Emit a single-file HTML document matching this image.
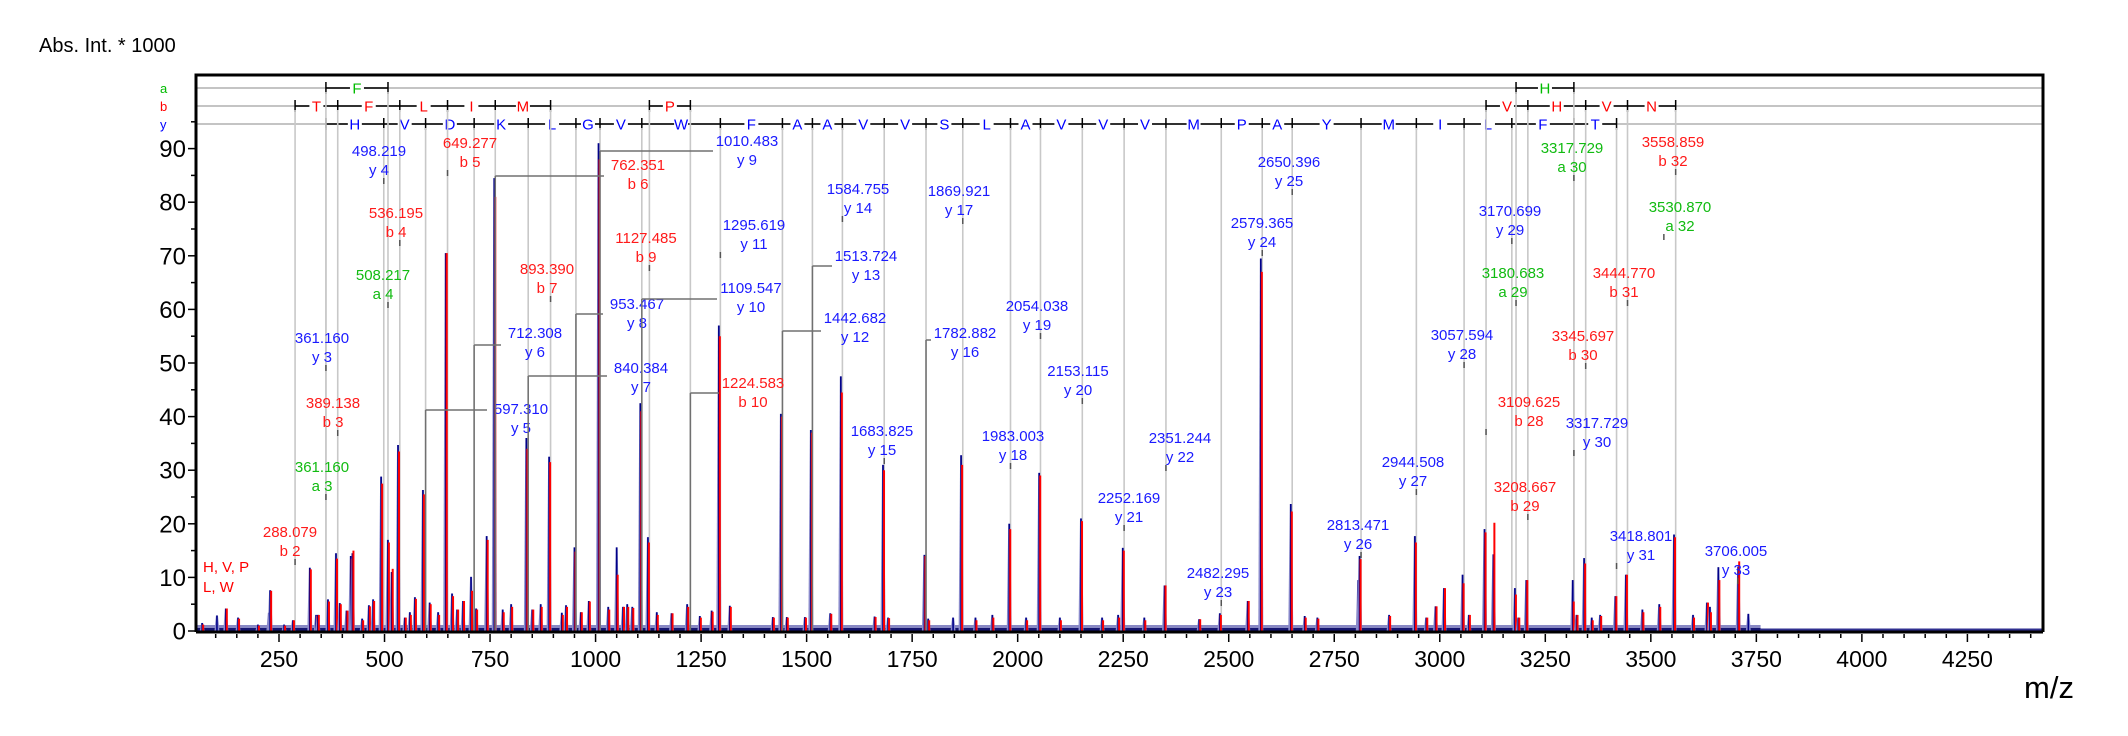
<!DOCTYPE html>
<html><head><meta charset="utf-8"><style>
html,body{margin:0;padding:0;background:#fff;}
svg{display:block;font-family:"Liberation Sans",Arial,sans-serif;}
</style></head><body>
<svg id="chart" width="2128" height="736" viewBox="0 0 2128 736" xmlns="http://www.w3.org/2000/svg">
<rect x="0" y="0" width="2128" height="736" fill="#fff"/>
<text x="39" y="52" font-size="20" fill="#000">Abs. Int. * 1000</text>
<text x="2049" y="698" font-size="31" fill="#000" text-anchor="middle">m/z</text>
<g id="rows"></g>
<g id="vlines"></g>
<g id="peaks"></g>
<g id="labels"></g>
<g id="axes"></g>
<text x="203" y="572" font-size="15" fill="#ff0000">H, V, P</text>
<text x="203" y="592" font-size="15" fill="#ff0000">L, W</text>
</svg>
<script>
// ---- data ----
const peakMz   = [68,103,124,153,200,226,229,262,283,323,338,342,366,385,394,410,420,424,447,463,473,492,508,517,532,548,560,572,591,607,627,645,660,672,686,705,717,742,760,780,800,836,850,870,890,920,930,950,965,984,1007,1030,1050,1065,1075,1087,1106,1124,1145,1180,1217,1247,1275,1292,1318,1420,1439,1453,1496,1510,1556,1581,1661,1681,1693,1779,1788,1847,1866,1900,1940,1980,2020,2051,2100,2150,2200,2238,2249,2300,2348,2430,2479,2545,2576,2647,2680,2710,2807,2810,2880,2941,2968,2990,3010,3054,3069,3106,3127,3178,3186,3205,3315,3324,3342,3360,3380,3416,3441,3480,3520,3555,3600,3633,3640,3660,3707,3731];
const peakBlue = [1.5,2.9,4.2,2.5,1.2,3.4,7.6,1.2,2,11.8,3,3,5.9,14.5,5.2,3.8,14,14.5,2.3,4.8,5.9,28.8,17,11,34.7,2.5,3.5,6.3,26.3,5.3,3.5,70.5,7,4,5.6,10.1,4.2,17.7,84.5,4,5,36,4,5,32.5,3.4,4.8,15.6,3.5,5.6,91,4.5,15.6,4.5,5,4.5,42.5,17.5,3.5,3.3,5,2.8,3.8,57,4.7,2.6,40.5,2.6,2.6,37.5,3.3,47.5,2.7,31,2.5,14.2,2.3,2.5,32.8,2.5,3,20,2.5,29.5,2.5,21,2.5,3,15.5,2.5,8.5,2.2,3.3,5.6,69.5,23.7,2.8,2.5,9.5,14,3,17.7,2.5,4.6,8,10.5,3,19,14.3,8,2.5,9.5,9.5,3,13.6,2.5,3,6.5,10.5,4,5,18,3,5.3,4.5,11.9,12,3.2];
const peakRed  = [1.2,0,4.2,2.3,1,0,7.5,1,2,11.5,2.8,3,5.5,13.5,5,3.8,13.5,15,2,4.6,5.6,27.5,16.5,11.6,33.5,2.5,3,6,25.5,5,3,70.5,6.5,4,5.6,7.5,4,17,81,3.5,4.5,34,4,4.5,31.5,3,4.5,14.8,3.5,5.5,88,4,10.5,4.5,4.5,4.3,41,16.5,3,3.3,4.5,2.5,3.6,55,4.5,2.5,40,2.5,2.5,37,3.2,44.5,2.6,30,2.4,14,2,0,31,2,2.5,19,2,29,2,20.5,2,2.5,15,2,8.5,2.2,3,5.6,67,22.3,2.5,2.3,9,13.4,2.8,16.5,2.5,4.6,8,8.9,3,18.4,20.2,6.8,2.5,9.5,5.5,3,12.6,2,2.8,6.5,10.5,3.5,4.5,17.5,2.5,5.3,3.5,9.5,13,0];

const aFrag = [361.160,508.217];          const aRes = ['F'];
const aFrag2 = [3180.683,3317.729];       const aRes2 = ['H'];
const bFrag = [288.079,389.138,536.195,649.277,762.351,893.390]; const bRes = ['T','F','L','I','M'];
const bFrag2 = [1127.485,1224.583];       const bRes2 = ['P'];
const bFrag3 = [3109.625,3208.667,3345.697,3444.770,3558.859]; const bRes3 = ['V','H','V','N'];
const yFrag = [361.160,498.219,597.310,712.308,840.384,953.467,1010.483,1109.547,1295.619,1442.682,1513.724,1584.755,1683.825,1782.882,1869.921,1983.003,2054.038,2153.115,2252.169,2351.244,2482.295,2579.365,2650.396,2813.471,2944.508,3057.594,3170.699,3317.729,3418.801];
const yRes = ['H','V','D','K','L','G','V','W','F','A','A','V','V','S','L','A','V','V','V','M','P','A','Y','M','I','L','F','T'];

// label annotations: mz, ion, series, label-x, label-y, connector-y
const labMz   = [361.160,498.219,597.310,712.308,840.384,953.467,1010.483,1109.547,1295.619,1442.682,1513.724,1584.755,1683.825,1782.882,1869.921,1983.003,2054.038,2153.115,2252.169,2351.244,2482.295,2579.365,2650.396,2813.471,2944.508,3057.594,3170.699,3317.729,3418.801,3706.005,
  288.079,389.138,536.195,649.277,762.351,893.390,1127.485,1224.583,3109.625,3208.667,3345.697,3444.770,3558.859,
  361.160,508.217,3180.683,3317.729,3530.870];
const labIon  = ['y 3','y 4','y 5','y 6','y 7','y 8','y 9','y 10','y 11','y 12','y 13','y 14','y 15','y 16','y 17','y 18','y 19','y 20','y 21','y 22','y 23','y 24','y 25','y 26','y 27','y 28','y 29','y 30','y 31','y 33',
  'b 2','b 3','b 4','b 5','b 6','b 7','b 9','b 10','b 28','b 29','b 30','b 31','b 32',
  'a 3','a 4','a 29','a 30','a 32'];
const labLX = [322,379,521,535,641,637,747,751,754,855,866,858,882,965,959,1013,1037,1078,1129,1180,1218,1262,1289,1358,1413,1462,1510,1597,1641,1736,
  290,333,396,470,638,547,646,753,1529,1525,1583,1624,1673,
  322,383,1513,1572,1680];
const labLY = [338,151,409,333,368,304,141,288,225,318,256,189,431,333,191,436,306,371,498,438,573,223,162,525,462,335,211,423,536,551,
  532,403,213,143,165,269,238,383,402,487,336,273,142,
  467,275,273,148,207];
const labConn = [0,0,410,345,376,314,151,299,0,331,266,0,0,340,0,0,0,0,0,0,0,0,0,0,0,0,0,0,0,0,
  0,0,0,0,176,0,0,393,0,0,0,0,0,
  0,0,0,0,0];

// ---- scales ----
const X0=196, X1=2043, Ybase=631;
function xs(mz){ return 279 + (mz-250)*0.4221; }
function ys(v){ return Ybase - 5.36*v; }

const NS='http://www.w3.org/2000/svg';
function mk(tag, attrs, parent){ const e=document.createElementNS(NS,tag); for(const k in attrs) e.setAttribute(k,attrs[k]); parent.appendChild(e); return e; }
const gRows=document.getElementById('rows'), gV=document.getElementById('vlines'), gP=document.getElementById('peaks'), gL=document.getElementById('labels'), gA=document.getElementById('axes');

// row baselines
const rowY=[88,106,124], rowCol=['#00bb00','#ff0000','#0000ff'], rowName=['a','b','y'];
for(let i=0;i<3;i++){
  const l=mk('line',{x1:X0,y1:rowY[i],x2:X1,y2:rowY[i],stroke:'#c4c4c4','stroke-width':2},gRows);
  
  
  const t=mk('text',{x:160,y:rowY[i]+5,'font-size':13,fill:rowCol[i]},gRows);
  t.textContent=rowName[i];
  
  
}
function ladder(frags,res,ry,col,nm){
  for(let i=0;i<frags.length;i++){
    const x=xs(frags[i]);
    const v=mk('line',{x1:x,y1:ry+4,x2:x,y2:Ybase,stroke:'#c8c8c8','stroke-width':1.6},gV);
    
    
    const tk=mk('line',{x1:x,y1:ry-6,x2:x,y2:ry+6,stroke:'#000','stroke-width':1.5},gRows);
    
    
  }
  for(let i=0;i<res.length;i++){
    const xa=xs(frags[i]), xb=xs(frags[i+1]), xm=(xa+xb)/2;
    const hl=mk('line',{x1:xa,y1:ry,x2:xb,y2:ry,stroke:'#000','stroke-width':1.4},gRows);
    
    
    mk('rect',{x:xm-7,y:ry-8,width:14,height:16,fill:'#fff'},gRows);
    const t=mk('text',{x:xm,y:ry+5.5,'font-size':15,fill:col,'text-anchor':'middle'},gRows);
    t.textContent=res[i];
    
    
  }
}
ladder(aFrag,aRes,88,'#00bb00','a'); ladder(aFrag2,aRes2,88,'#00bb00','a');
ladder(bFrag,bRes,106,'#ff0000','b'); ladder(bFrag2,bRes2,106,'#ff0000','b'); ladder(bFrag3,bRes3,106,'#ff0000','b');
ladder(yFrag,yRes,124,'#0000ff','y');

// baseline noise band
const nb=mk('rect',{x:X0,y:Ybase-6,width:xs(3760)-X0,height:6,fill:'#8888c4'},gP);


const nb2=mk('rect',{x:X0,y:Ybase-3,width:xs(3760)-X0,height:3,fill:'#151570'},gP);


const nb3=mk('rect',{x:xs(3760),y:Ybase-2.5,width:X1-xs(3760),height:2.5,fill:'#303090'},gP);



// peaks
for(let i=0;i<peakMz.length;i++){
  const x=xs(peakMz[i]);
  const yb=ys(peakBlue[i]);
  const h=mk('polygon',{points:`${x-2.5},${Ybase} ${x-1},${yb} ${x+1},${yb} ${x+2.5},${Ybase}`,fill:'#8a8acb'},gP);
  
  
  const b=mk('line',{x1:x,y1:Ybase,x2:x,y2:yb,stroke:'#000088','stroke-width':1.6},gP);
  
  
  if(peakRed[i]>0){
    const r=mk('line',{x1:x+1,y1:Ybase,x2:x+1,y2:ys(peakRed[i]),stroke:'#ff0000','stroke-width':2},gP);
    
    
  }
}

// labels
for(let i=0;i<labMz.length;i++){
  const ser=labIon[i][0];
  const col= ser==='y' ? '#1a1aff' : (ser==='b' ? '#ff1a1a' : '#11bb11');
  const x=xs(labMz[i]), lx=labLX[i], ly=labLY[i];
  if(labConn[i]>0){
    const cy=labConn[i];
    const c1=mk('line',{x1:x,y1:cy,x2:lx-34,y2:cy,stroke:'#707070','stroke-width':1.5},gL);
    
    
    const c2=mk('line',{x1:x,y1:cy,x2:x,y2:Ybase,stroke:'#707070','stroke-width':1.5},gL);
    
    
  } else {
    const d=mk('line',{x1:x,y1:ly+27,x2:x,y2:ly+33,stroke:'#555','stroke-width':1.5},gL);
    
    
  }
  const t1=mk('text',{x:lx,y:ly+5,'font-size':15,fill:col,'text-anchor':'middle'},gL);
  t1.textContent=labMz[i].toFixed(3);
  
  
  const t2=mk('text',{x:lx,y:ly+24,'font-size':15,fill:col,'text-anchor':'middle'},gL);
  t2.textContent=labIon[i];
  
  
}

// axes frame
const fr=mk('path',{d:`M${X0},${Ybase+1} L${X0},75 L${X1},75 L${X1},${Ybase+1}`,fill:'none',stroke:'#000','stroke-width':3},gA);


const xa=mk('line',{x1:X0,y1:Ybase+1,x2:X1,y2:Ybase+1,stroke:'#000','stroke-width':3},gA);



const yTicks=[0,10,20,30,40,50,60,70,80,90];
for(let v=0; v<=95; v+=5){
  const maj=v%10===0, y=ys(v);
  const t=mk('line',{x1:X0-(maj?8:5),y1:y,x2:X0,y2:y,stroke:'#000','stroke-width':1.5},gA);
  
  
}
for(const v of yTicks){
  const t=mk('text',{x:186,y:ys(v)+8.5,'font-size':24,fill:'#000','text-anchor':'end'},gA);
  t.textContent=v;
  
  
}
const xTicks=[250,500,750,1000,1250,1500,1750,2000,2250,2500,2750,3000,3250,3500,3750,4000,4250];
for(let m=100; m<=4400; m+=50){
  const maj=m%250===0, x=xs(m);
  const t=mk('line',{x1:x,y1:Ybase+3,x2:x,y2:Ybase+(maj?11:7),stroke:'#000','stroke-width':1.5},gA);
  
  
}
for(const m of xTicks){
  const t=mk('text',{x:xs(m),y:667,'font-size':23,fill:'#000','text-anchor':'middle'},gA);
  t.textContent=m;
  
  
}
</script>
</body></html>
